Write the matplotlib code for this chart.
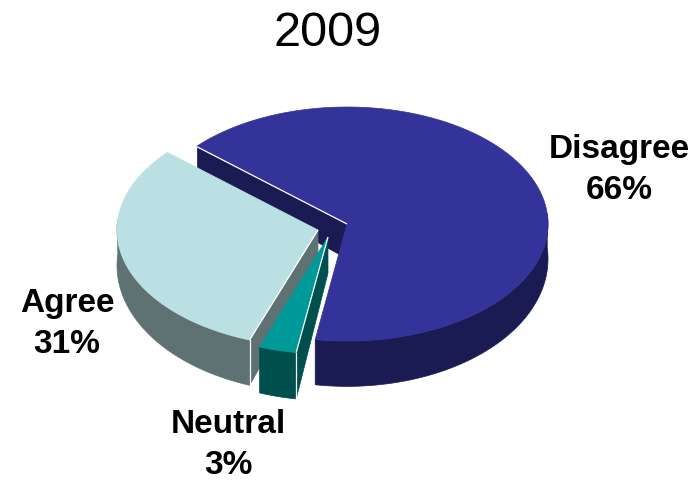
import numpy as np
import matplotlib
matplotlib.use("Agg")
import matplotlib.pyplot as plt
from matplotlib.patches import Polygon

title = "2009"
categories = ["Disagree", "Agree", "Neutral"]
percent = [66, 31, 3]
top_colors = ["#333399", "#BBE0E3", "#009999"]
side_colors = ["#1B1B53", "#5F7273", "#004F4F"]

W, H = 700, 482
RX, RY = 201, 117
START_DEG = 138.5
apex = {"Disagree": (347, 224), "Agree": (318, 230), "Neutral": (328, 237)}
label_pos = {"Disagree": (619, 170), "Agree": (67, 324), "Neutral": (228, 445)}

plt.rcParams["font.family"] = ["Liberation Sans", "DejaVu Sans"]
fig = plt.figure(figsize=(W / 100, H / 100), dpi=100)
ax = fig.add_axes([0, 0, 1, 1])
ax.set_xlim(0, W)
ax.set_ylim(H, 0)
ax.axis("off")


def depth(y):
    return 36 + (np.asarray(y, float) - 237) * (46 - 36) / (348 - 237)


def rim(c, a0, a1, n=160):
    t = np.radians(np.linspace(a0, a1, n))
    return c[0] + RX * np.cos(t), c[1] - RY * np.sin(t)


def lowered(x, y):
    return x, y + depth(y)


shares = dict(zip(categories, percent))
d1 = START_DEG
d0 = d1 - shares["Disagree"] * 3.6
ag0 = d1
ag1 = ag0 + shares["Agree"] * 3.6
ne0 = ag1
ne1 = ne0 + shares["Neutral"] * 3.6
angles = {"Disagree": (d0, d1), "Agree": (ag0, ag1), "Neutral": (ne0, ne1)}
top = dict(zip(categories, top_colors))
side = dict(zip(categories, side_colors))


def poly(xs, ys, color, z):
    ax.add_patch(Polygon(np.column_stack([xs, ys]), closed=True, fc=color, ec=color, lw=0.5, zorder=z))


def outer_wall(name, a0, a1, z):
    x, y = rim(apex[name], a0, a1)
    lx, ly = lowered(x, y)
    poly(np.r_[x, lx[::-1]], np.r_[y, ly[::-1]], side[name], z)


def cut_wall(name, ang, z):
    c = apex[name]
    x, y = rim(c, ang, ang, 1)
    xs = np.array([c[0], x[0]])
    ys = np.array([c[1], y[0]])
    lx, ly = lowered(xs, ys)
    poly(np.r_[xs, lx[::-1]], np.r_[ys, ly[::-1]], side[name], z)
    ax.plot([x[0], x[0]], [y[0], y[0] + depth(y[0])], color="white", lw=0.9, zorder=z + 0.5)


def top_face(name, z):
    c = apex[name]
    a0, a1 = angles[name]
    x, y = rim(c, a0, a1)
    poly(np.r_[c[0], x], np.r_[c[1], y], top[name], z)


def edge_line(name, ang, z):
    c = apex[name]
    x, y = rim(c, ang, ang, 1)
    ax.plot([c[0], x[0]], [c[1], y[0]], color="white", lw=0.9, zorder=z, solid_capstyle="butt")


# Disagree
cut_wall("Disagree", d1, 1)
outer_wall("Disagree", d0, 5, 2)
top_face("Disagree", 3)
edge_line("Disagree", d1, 3.5)
# Agree
outer_wall("Agree", 175, ag1, 4)
cut_wall("Agree", ag1, 5)
top_face("Agree", 6)
edge_line("Agree", ag1, 6.5)
# Neutral
outer_wall("Neutral", ne0, ne1, 7)
cut_wall("Neutral", ne1, 8)
top_face("Neutral", 9)
edge_line("Neutral", ne1, 9.5)

ax.text(328, 33, title, ha="center", va="center", fontsize=35, color="black", zorder=20)
for name, pct in zip(categories, percent):
    x, y = label_pos[name]
    ax.text(x, y, f"{name}\n{pct}%", ha="center", va="center", fontsize=24,
            fontweight="bold", color="black", linespacing=1.38, zorder=20)

fig.savefig("out.png", dpi=100)
